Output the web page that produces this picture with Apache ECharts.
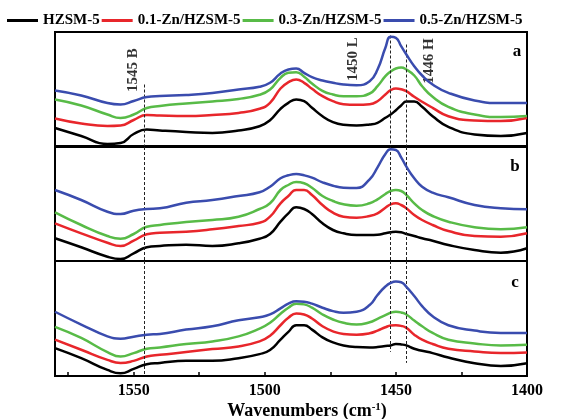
<!DOCTYPE html>
<html><head><meta charset="utf-8">
<script src="https://cdn.jsdelivr.net/npm/echarts@6/dist/echarts.min.js"></script>
<style>html,body{margin:0;padding:0;background:#fff}#c{width:574px;height:419px}</style>
</head><body><div id="c"></div>
<script>
// ---- data ----
const wavenumbers = [1580,1570,1560,1555,1550,1545,1540,1530,1520,1510,1502,1498,1494,1491,1488,1485,1482,1478,1474,1470,1465,1460,1457,1454,1452,1450,1448,1446,1443,1440,1436,1430,1420,1410,1400];
const seriesNames = ['HZSM-5','0.1-Zn/HZSM-5','0.3-Zn/HZSM-5','0.5-Zn/HZSM-5'];
const panelLabels = ['a','b','c'];

// panel a
const aBlack = [18,10,2,3,12,16.5,15.5,14,13,15.5,19.8,25.8,37.2,43.2,46.5,44.8,38.2,29.8,23.8,21.2,20.5,21.5,23.2,28.2,31.5,35.8,40.5,44.5,44.5,39.2,29.8,19.2,11.5,10,13];
const aRed   = [27.5,22.5,20,20.5,26,31,30.5,30,31,33,37.2,43.2,57.5,63.8,66.5,63.2,57.2,49.8,44.8,41.8,41.2,41.8,44.8,51.5,55.8,57.5,56.8,54.8,49.2,44.2,38.2,29.8,25.5,25,28];
const aGreen = [46.5,40.5,31.5,28,31.5,38,40,42.5,44.5,47,51.2,56.5,68.2,73.2,73.8,69.2,62.5,55.2,51.5,49.8,49.8,52.5,59.8,69.8,74.5,77.5,78.5,76.5,70.5,59.8,49.2,39.2,31.5,29,30];
const aBlue  = [55.5,50.5,43,41.5,45,49,50,51,53,56.5,59.2,63.2,72.5,76.5,77.5,73.2,68.8,65.5,63.2,61.5,60.8,64.8,76.5,98.2,109.2,108.2,99.8,91.5,79.8,70.5,61.5,53.2,45.5,43,43];
// panel b
const bBlack = [22.7,13.7,4.3,2,7.7,13.7,15,16.3,15,17.7,22.3,27,39.3,47.7,53.7,52,47,37.7,31,27.7,26,26,26.3,27.7,28.7,29.3,28.7,27,25,22.7,20.3,16,11,8.3,12.7];
const bRed   = [37.7,27.7,18.3,15,20.3,26.7,28.3,29.3,31.7,35,38.3,44.3,57.7,65,71,71,66,56,48.3,44.3,43.3,45,47.7,53.3,56.7,57.7,56,52.7,46,41,36,30,25,24.3,27.7];
const bGreen = [48.7,36,25,22.3,27,34.3,36,39,41,44.3,52,57.7,71,76,79,77.7,73.3,65,60,56.7,55.3,57.7,61.7,67,70,71,70,66,57.7,51,45,39.3,33.7,31.7,33.7];
const bBlue  = [71,61,49.3,47,50.3,52,52.7,58.3,61,65,68.7,74.3,82.7,85.7,87,85.7,83.3,78.7,75.3,73.3,73,81.7,93.7,107,111.7,111,103.7,94.3,82.7,74.3,68.3,63.7,56,52.7,51.7];
// panel c
const cBlack = [27.7,17.7,6,2.7,7,11.7,13,15,15,17.7,21.7,25.7,36,43.7,50.3,50.3,46,38.3,33.3,30.3,28.7,28.3,28.7,29.7,30.3,31.7,31.3,30.3,27,25,22.7,18.3,12.7,10,12.7];
const cRed   = [36,26,16,13,15,19.3,21,23.7,26.7,29.3,34.3,40,50.3,57.7,62,61,57,49.3,44.3,41.7,41,42.3,45,48.3,50,50.3,49.7,47.7,41,36,31.7,27,24.3,22.7,23.3];
const cGreen = [48.7,37.7,23.7,19.3,22.7,27,28.3,31.7,34.3,39.3,47,52.7,61.7,67.7,71.7,71,67.7,61,56,52.7,51,53.3,56.7,60.3,62.7,63.7,63,61,55,49.3,42.7,36,32.3,30.3,31];
const cBlue  = [63.7,51,39.3,37,39,41,41.7,46,49.3,55.3,58.3,61,67,71.7,74,73.7,71.7,67.7,64.3,62.7,63.7,70.3,80.3,88.7,92.3,93.7,93,88.3,79.3,69.3,59.3,50.3,45,42.7,42.7];

// reference lines (wavenumber, top in panel a, bottom in panel c)
const markerWavenumbers = [1546, 1452, 1446];
const markerTopA = [61.5, 110.5, 101.5];
const markerBottomC = [0, 24, 13];
// rotated annotations in panel a
const annotationText = ['1545 B', '1450 L', '1446 H'];
const annotationX = [1550.2, 1466.2, 1437.5];
const annotationY = [76, 87, 85];

// ---- chart ----
const panelValues = [[aBlack,aRed,aGreen,aBlue],[bBlack,bRed,bGreen,bBlue],[cBlack,cRed,cGreen,cBlue]];
const colors = ['#000000','#e8262b','#58bb47','#3a4cae'];
const FONT = 'Liberation Serif';
const YMAX = 114;
const gridDefs = [{top:32,height:114},{top:147,height:114},{top:261,height:115}];

const grids = gridDefs.map(g => ({left:55,right:47,top:g.top,height:g.height,show:true,borderColor:'#000',borderWidth:2,backgroundColor:'transparent'}));
const xAxes = gridDefs.map((g,i) => ({
  type:'value', gridIndex:i, inverse:true, min:1400, max:1580, interval:25,
  axisLine:{show:false}, splitLine:{show:false},
  axisTick:{show:i===2, inside:true, length:4, lineStyle:{color:'#000',width:1.5}},
  axisLabel:{show:i===2, margin:7, color:'#000', fontFamily:FONT, fontWeight:'bold', fontSize:16,
    formatter: v => (v % 50 === 0 ? String(v) : '')}
}));
const yAxes = gridDefs.map((g,i) => ({type:'value', gridIndex:i, min:0, max:YMAX, show:false}));

const series = [];
panelValues.forEach((vals, p) => {
  vals.forEach((arr, k) => {
    series.push({
      type:'line', name:seriesNames[k], xAxisIndex:p, yAxisIndex:p,
      data: wavenumbers.map((w,j) => [w, arr[j]]),
      symbol:'none', smooth:0.5, color:colors[k],
      lineStyle:{width:2.5, color:colors[k]}, z:2+k
    });
  });
  const md = markerWavenumbers.map((w,j) => {
    const top = p === 0 ? markerTopA[j] : YMAX;
    const bot = p === 2 ? markerBottomC[j] : 0;
    return [{coord:[w, top]}, {coord:[w, bot]}];
  });
  series.push({
    type:'line', xAxisIndex:p, yAxisIndex:p, data:[], silent:true,
    markLine:{silent:true, symbol:['none','none'], label:{show:false},
      lineStyle:{type:[3,2], color:'#222', width:1}, data: md, animation:false}
  });
});
series.push({
  type:'scatter', xAxisIndex:0, yAxisIndex:0, symbolSize:0, silent:true,
  data: annotationX.map((x,i) => [x, annotationY[i]]),
  label:{show:true, position:'inside', rotate:90, align:'center', verticalAlign:'middle',
    color:'#000', fontFamily:FONT, fontWeight:'bold', fontSize:15,
    formatter: p => annotationText[p.dataIndex]}
});

const chart = echarts.init(document.getElementById('c'), null, {renderer:'canvas'});
chart.setOption({
  animation:false,
  backgroundColor:'#fff',
  legend:{data:seriesNames, top:8, left:2, icon:'rect', itemWidth:31, itemHeight:3, itemGap:2,
    textStyle:{color:'#000', fontFamily:FONT, fontWeight:'bold', fontSize:15}},
  grid:grids, xAxis:xAxes, yAxis:yAxes, series:series,
  graphic:[
    {type:'text', x:517, y:52, style:{text:panelLabels[0], fill:'#000', font:'bold 17px "Liberation Serif"', textAlign:'center', textVerticalAlign:'middle'}},
    {type:'text', x:515, y:167, style:{text:panelLabels[1], fill:'#000', font:'bold 17px "Liberation Serif"', textAlign:'center', textVerticalAlign:'middle'}},
    {type:'text', x:515, y:283, style:{text:panelLabels[2], fill:'#000', font:'bold 17px "Liberation Serif"', textAlign:'center', textVerticalAlign:'middle'}},
    {type:'text', x:307, y:411, style:{text:'{m|Wavenumbers (cm}{s|-1}{m|)}', textAlign:'center', textVerticalAlign:'middle',
      rich:{m:{fontFamily:FONT, fontWeight:'bold', fontSize:18, fill:'#000', color:'#000'},
            s:{fontFamily:FONT, fontWeight:'bold', fontSize:11, fill:'#000', color:'#000', verticalAlign:'top', padding:[0,0,8,0]}}}}
  ]
});
</script></body></html>
